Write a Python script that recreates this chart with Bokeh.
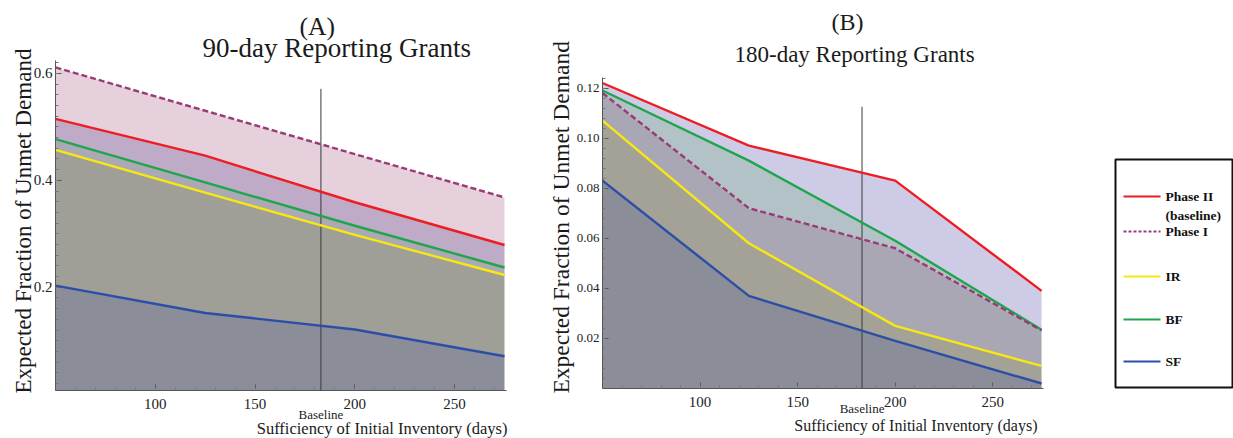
from bokeh.plotting import figure
from bokeh.layouts import row, column
from bokeh.models import Range1d, FixedTicker, PrintfTickFormatter, Title, LinearAxis
from bokeh.core.properties import value
from bokeh.embed import file_html
from bokeh.resources import INLINE

# ---------------- data ----------------
days = [50, 125, 200, 275]
series_names = ["Phase II\n(baseline)", "Phase I", "IR", "BF", "SF"]
series_keys = ["phase2", "phase1", "ir", "bf", "sf"]
series_colors = {"phase2": "#ee1d24", "phase1": "#9a3b78", "ir": "#f7e811",
                 "bf": "#1fa64d", "sf": "#2c4ea8"}
series_dash = {"phase2": "solid", "phase1": "6 3", "ir": "solid", "bf": "solid", "sf": "solid"}

# (A) 90-day reporting grants
a_phase2 = [0.515, 0.446, 0.359, 0.279]
a_phase1 = [0.611, 0.530, 0.449, 0.368]
a_ir = [0.457, 0.377, 0.298, 0.223]
a_bf = [0.477, 0.396, 0.315, 0.237]
a_sf = [0.203, 0.152, 0.121, 0.071]

# (B) 180-day reporting grants
b_phase2 = [0.122, 0.097, 0.083, 0.039]
b_phase1 = [0.118, 0.072, 0.056, 0.0232]
b_ir = [0.107, 0.058, 0.025, 0.009]
b_bf = [0.119, 0.091, 0.059, 0.0235]
b_sf = [0.083, 0.037, 0.019, 0.002]

baseline_days = 183
a_baseline_top = 0.571
b_baseline_top = 0.1125

x_ticks = [100, 150, 200, 250]
a_y_ticks = [0.2, 0.4, 0.6]
b_y_ticks = [0.02, 0.04, 0.06, 0.08, 0.10, 0.12]

a_data = {"phase2": a_phase2, "phase1": a_phase1, "ir": a_ir, "bf": a_bf, "sf": a_sf}
b_data = {"phase2": b_phase2, "phase1": b_phase1, "ir": b_ir, "bf": b_bf, "sf": b_sf}

# stacking order (top to bottom) and the colours of the regions between curves
a_order = ["phase1", "phase2", "bf", "ir", "sf"]
a_band_colors = ["#e6d0dc", "#bfaac7", "#aba9b3", "#a09f97", "#8b8e99"]
b_order = ["phase2", "bf", "phase1", "ir", "sf"]
b_band_colors = ["#cdcbe6", "#b3c2c6", "#aaa7b4", "#a4a196", "#8b8e99"]

SERIF = "Liberation Serif"
X_LABEL = "Sufficiency of Initial Inventory (days)"
Y_LABEL = "Expected Fraction of Unmet Demand"


def title(text, size, align="left", offset=0, standoff=0, valign="bottom"):
    return Title(text=text, text_font=SERIF, text_font_size=size, text_font_style="normal",
                 text_color="#1a1a1a", align=align, offset=offset, standoff=standoff,
                 vertical_align=valign)


def make_panel(data, order, band_colors, y_start, y_end, y_ticks, y_minor, y_fmt,
               width, height, borders, baseline_top, tick_font_size, base_standoff):
    p = figure(width=width, height=height, output_backend="svg", toolbar_location=None,
               x_range=Range1d(50, 276), y_range=Range1d(y_start, y_end),
               min_border_left=borders[0], min_border_right=borders[1],
               min_border_top=borders[2], min_border_bottom=borders[3])
    p.outline_line_color = None
    p.grid.visible = False
    p.background_fill_color = "white"
    p.border_fill_color = "white"

    # filled regions between consecutive curves
    for i, key in enumerate(order):
        upper = data[key]
        lower = data[order[i + 1]] if i + 1 < len(order) else [y_start] * len(days)
        p.varea(x=days, y1=lower, y2=upper, fill_color=band_colors[i], fill_alpha=1.0)

    # baseline marker
    p.segment(x0=[baseline_days], y0=[y_start], x1=[baseline_days], y1=[baseline_top],
              line_color="#3a3a3a", line_width=1)

    for key in ["sf", "ir", "bf", "phase1", "phase2"]:
        p.line(days, data[key], line_color=series_colors[key], line_width=2.4,
               line_dash=series_dash[key])

    p.xaxis.ticker = FixedTicker(ticks=x_ticks, minor_ticks=list(range(60, 280, 10)))
    p.yaxis.ticker = FixedTicker(ticks=y_ticks, minor_ticks=y_minor)
    p.yaxis.formatter = PrintfTickFormatter(format=y_fmt)
    for ax in (p.xaxis[0], p.yaxis[0]):
        ax.major_tick_in = 6
        ax.major_tick_out = 0
        ax.minor_tick_in = 3
        ax.minor_tick_out = 0
        ax.axis_line_color = "#555555"
        ax.major_tick_line_color = "#555555"
        ax.minor_tick_line_color = "#777777"
        ax.major_label_text_font = SERIF
        ax.major_label_text_color = "#222222"
    p.xaxis.major_label_standoff = 8
    p.yaxis.major_label_standoff = 3
    p.xaxis.major_label_text_font_size = "15px"
    p.yaxis.major_label_text_font_size = tick_font_size

    # "Baseline" marker label under the axis
    base_ax = LinearAxis(ticker=FixedTicker(ticks=[baseline_days]),
                         major_label_overrides={baseline_days: "Baseline"},
                         axis_line_color=None, major_tick_line_color=None,
                         minor_tick_line_color=None, major_label_standoff=base_standoff,
                         major_label_text_font=SERIF, major_label_text_font_size="13px",
                         major_label_text_color="#222222")
    p.add_layout(base_ax, "below")
    return p


# ---------------- panel A ----------------
a_minor = [round(0.02 * k, 2) for k in range(1, 32)]
pA = make_panel(a_data, a_order, a_band_colors, 0.007, 0.624, a_y_ticks, a_minor, "%.1f",
                545, 438, (55, 39, 60, 48), a_baseline_top, "15px", -11)
pA.add_layout(title("90-day Reporting Grants", "27px", offset=147, standoff=-4), "above")
pA.add_layout(title("(A)", "25.5px", offset=244, standoff=-16), "above")
pA.add_layout(title(Y_LABEL, "23px", offset=-3, standoff=-10), "left")
pA.add_layout(title(X_LABEL, "16.5px", align="right", offset=-1, standoff=-12, valign="top"),
              "below")

# ---------------- panel B ----------------
b_minor = [round(0.004 * k, 3) for k in range(1, 32)]
pB = make_panel(b_data, b_order, b_band_colors, 0.0, 0.1242, b_y_ticks, b_minor, "%.2f",
                565, 438, (53, 67, 77, 50), b_baseline_top, "13px", -15)
pB.add_layout(title("180-day Reporting Grants", "23px", offset=132, standoff=21), "above")
pB.add_layout(title("(B)", "24px", offset=229, standoff=-10), "above")
pB.add_layout(title(Y_LABEL, "23.5px", offset=-5, standoff=0), "left")
pB.add_layout(title(X_LABEL, "16px", align="right", offset=6, standoff=-4, valign="top"),
              "below")

# ---------------- legend ----------------
pL = figure(width=123, height=438, output_backend="svg", toolbar_location=None,
            x_range=Range1d(0, 123), y_range=Range1d(438, 0),
            min_border_left=0, min_border_right=0, min_border_top=0, min_border_bottom=0)
pL.axis.visible = False
pL.grid.visible = False
pL.outline_line_color = None
pL.quad(left=[5], right=[122], top=[159], bottom=[387], fill_color=None,
        line_color="#111111", line_width=2)
row_y = [196, 231, 276, 319, 361]
for key, name, yy in zip(series_keys, series_names, row_y):
    pL.line([13, 50], [yy, yy], line_color=series_colors[key], line_width=1.8,
            line_dash="3 2" if series_dash[key] != "solid" else "solid")
    pL.text(x=[55], y=[yy - 8], text=[name], text_font=value(SERIF),
            text_font_size="13.5px", text_font_style="bold", text_color="#111111",
            text_baseline="top", text_align="left", text_line_height=1.3)

layout = row(column(pA), column(pB), column(pL))
open("out.html", "w").write(file_html(layout, INLINE))
